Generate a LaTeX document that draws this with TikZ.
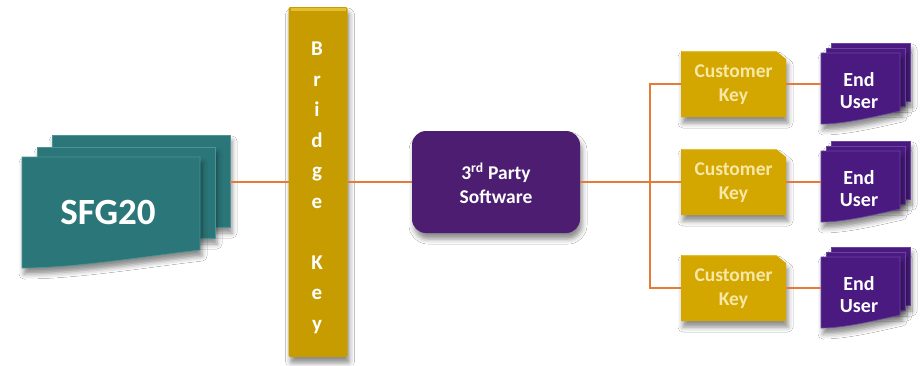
\documentclass[tikz,border=0pt]{standalone}
\usepackage{fontspec}
\setmainfont{Carlito}
\usetikzlibrary{shadows.blur}

\definecolor{sfgteal}{HTML}{2B7678}
\definecolor{sfgedge}{HTML}{4B9596}
\definecolor{keygold}{HTML}{C69C00}
\definecolor{keyhigh}{HTML}{E4C030}
\definecolor{custgold}{HTML}{D3A600}
\definecolor{custtext}{HTML}{F8E8A8}
\definecolor{swpurple}{HTML}{4C1D70}
\definecolor{eupurple}{HTML}{4A1A80}
\definecolor{euedge}{HTML}{6A45A0}
\definecolor{linkorange}{HTML}{E37C38}

\tikzset{
  softshadow/.style={blur shadow={shadow xshift=2pt, shadow yshift=-6pt,
      shadow blur radius=5pt, shadow opacity=45}},
  link/.style={draw=linkorange, line width=1.8pt},
  anchorbox/.style={inner sep=0pt, outer sep=0pt, draw=none, fill=none},
  bridgebar/.style={rectangle, rounded corners=2pt, fill=keygold, softshadow,
      minimum width=59pt, minimum height=350pt, inner sep=0pt, outer sep=0pt},
  swbox/.style={rectangle, rounded corners=14pt, fill=swpurple, softshadow,
      minimum width=168pt, minimum height=102pt, inner sep=0pt, outer sep=0pt},
  cktext/.style={align=center, text=custtext, inner sep=0pt,
      font=\fontsize{19.5}{24}\selectfont\bfseries},
  whitebold/.style={text=white, align=center, inner sep=0pt},
  sfgsheet/.style={fill=sfgteal, draw=sfgedge, line width=0.6pt, softshadow},
  eusheet/.style={fill=eupurple, draw=euedge, line width=0.6pt, softshadow},
  keyface/.style={fill=custgold, softshadow},
}

\begin{document}
\begin{tikzpicture}[x=1pt,y=-1pt]
\fill[white] (0,0) rectangle (924,365);
\useasboundingbox (0,0) rectangle (924,365);

% SFG20 document stack (back to front)
\filldraw[sfgsheet] (52,135) rectangle (230,227);
\filldraw[sfgsheet] (37,147) rectangle (215,238);
\filldraw[sfgsheet] (22,157) -- (200,157) -- (200,250)
  .. controls (147,256) and (75,268) .. (22,268) -- cycle;
\node[anchorbox, minimum width=208pt, minimum height=94pt] (sfg) at (126,182) {};
\node[whitebold, font=\fontsize{37}{37}\selectfont\bfseries] (sfgt) at (108,212) {SFG20};

% Bridge key bar with its vertical lettering
\node[bridgebar] (bk) at (318,182) {};
\fill[keyhigh] ([xshift=2pt,yshift=-1pt]bk.north west) rectangle ([xshift=-2pt,yshift=-4pt]bk.north east);
\node[whitebold, font=\fontsize{21}{30.5}\selectfont\bfseries] (bkt) at (317,188)
  {B\\r\\i\\d\\g\\e\\\mbox{}\\K\\e\\y};

% Third-party software box
\node[swbox] (tp) at (496,182) {};
\node[whitebold, font=\fontsize{19.5}{23.5}\selectfont\bfseries] (tpt) at (496,183)
  {3\textsuperscript{rd} Party\\Software};

% Junction of the fan-out
\coordinate (jn) at (650,182);

% Customer keys (snipped corner) and end-user document stacks
\foreach \c [count=\i] in {84,182,288} {
  \fill[keyface] (681,{\c-33}) -- (776,{\c-33}) -- (786,{\c-25})
    -- (786,{\c+33}) -- (681,{\c+33}) -- cycle;
  \fill[keyhigh] (682,{\c-33}) -- (776,{\c-33}) -- (777.5,{\c-31.8}) -- (682,{\c-31.8}) -- cycle;
  \node[anchorbox, minimum width=105pt, minimum height=66pt] (ck\i) at (733.5,\c) {};
  \node[cktext] (ckt\i) at (733.5,{\c+1}) {Customer\\Key};
  \filldraw[eusheet] (831,{\c-41}) rectangle (910,{\c+17});
  \filldraw[eusheet] (826,{\c-36}) rectangle (905,{\c+22});
  \filldraw[eusheet] (821,{\c-31}) -- (900,{\c-31}) -- (900,{\c+27})
    .. controls (877,{\c+32}) and (845,{\c+40}) .. (821,{\c+40}) -- cycle;
  \node[anchorbox, minimum width=89pt, minimum height=58pt] (eu\i) at (865.5,\c) {};
  \node[whitebold, font=\fontsize{20}{22}\selectfont\bfseries] (eut\i) at (859,{\c+7}) {End\\User};
}

% Connectors
\draw[link] (sfg.east) -- (bk.west);
\draw[link] (bk.east) -- (tp.west);
\draw[link] (tp.east) -- (jn);
\foreach \i in {1,2,3} {
  \draw[link] (jn) |- (ck\i.west);
  \draw[link] (ck\i.east) -- (eu\i.west);
}
\end{tikzpicture}
\end{document}
